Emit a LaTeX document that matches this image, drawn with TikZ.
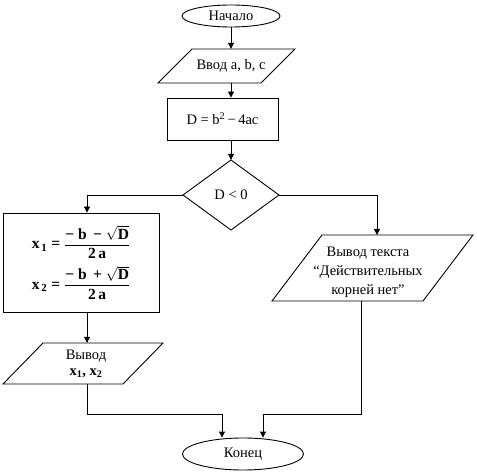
\documentclass[tikz,border=0pt]{standalone}
\usepackage{amsmath}
\usepackage{fontspec}
\setmainfont{Liberation Serif}
\usetikzlibrary{arrows.meta,shapes.geometric}
\tikzset{
  ln/.style={line width=0.9pt,black},
  arr/.style={ln,-{Triangle[length=6pt,width=6pt]}},
  txt/.style={inner sep=0pt,align=center,font=\fontsize{14.5}{19}\selectfont},
  term/.style={ln,draw,ellipse,inner sep=0pt,font=\fontsize{14.5}{19}\selectfont},
}
\newcommand{\bx}[1]{\text{\bfseries #1}}
\begin{document}
\begin{tikzpicture}[x=1pt,y=-1pt]
\useasboundingbox (0,0) rectangle (477,473);
% start
\node[term,minimum width=98pt,minimum height=22pt] (start) at (231,16) {Начало};
% input parallelogram
\draw[ln] (192,49) -- (295,49) -- (261,83) -- (158,83) -- cycle;
\node[txt,minimum height=34pt] (in) at (231,66) {Ввод a, b, c};
% process
\node[ln,draw,minimum width=111pt,minimum height=42pt,inner sep=0pt,font=\fontsize{14.5}{19}\selectfont] (proc) at (222.5,119) {D = b\textsuperscript{2}\,−\,4ac};
% decision
\draw[ln] (231,160) -- (279,195) -- (231,230) -- (183,195) -- cycle;
\node[txt,minimum width=96pt,minimum height=70pt] (dec) at (231,195) {D < 0};
% calc box
\node[ln,draw,minimum width=156pt,minimum height=99pt,inner sep=0pt,font=\fontsize{15.5}{18}\selectfont,align=center] (calc) at (81,262.5)
 {$\bx{x}_{\,\bx{1}} \;\bx{=}\; \dfrac{\bx{− b \,− }\sqrt{\bx{D}}}{\bx{2\,a}}$\\[6pt]
  $\bx{x}_{\,\bx{2}} \;\bx{=}\; \dfrac{\bx{− b \,+ }\sqrt{\bx{D}}}{\bx{2\,a}}$};
% output left
\draw[ln] (43,343) -- (163,343) -- (123,384) -- (3,384) -- cycle;
\node[txt,minimum height=41pt,font=\fontsize{14.5}{16}\selectfont] (outl) at (86,363.5) {Вывод\\ $\bx{x}_{\bx{1}}\bx{, }\bx{x}_{\bx{2}}$};
% output right
\draw[ln] (322,235) -- (473,235) -- (423,301) -- (272,301) -- cycle;
\node[txt,minimum height=66pt] (outr) at (368,272) {Вывод текста\\“Действительных\\корней нет”};
% end
\node[term,minimum width=121pt,minimum height=32pt] (end) at (243,454) {Конец};
% coordinates
\coordinate (cx) at (231,0);
\coordinate (lx) at (87,0);
\coordinate (rx) at (377,0);
\coordinate (rb) at (361,0);
\coordinate (jy) at (0,414);
\coordinate (e1) at (222,0);
\coordinate (e2) at (263,0);
% connectors
\draw[arr] (start) -- (in.north -| cx);
\draw[arr] (in.south -| cx) -- (proc.north -| cx);
\draw[arr] (proc.south -| cx) -- (dec.north);
\draw[arr] (dec.west) -| (calc.north -| lx);
\draw[arr] (dec.east) -| (rx |- 0,235);
\draw[arr] (calc.south -| lx) -- (outl.north -| lx);
\draw[arr] (outl.south -| lx) |- (jy -| e1) -- (end.north -| e1);
\draw[arr] (rb |- 0,301) |- (jy -| e2) -- (end.north -| e2);
\end{tikzpicture}
\end{document}
